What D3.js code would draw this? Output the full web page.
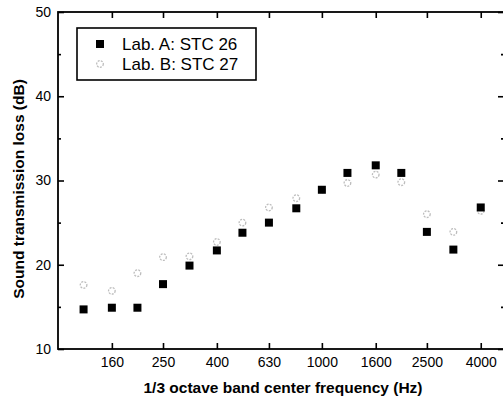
<!DOCTYPE html>
<html>
<head>
<meta charset="utf-8">
<script src="https://cdn.jsdelivr.net/npm/d3@7"></script>
<style>
  html, body { margin: 0; padding: 0; background: #fff; }
  svg { display: block; font-family: "Liberation Sans", Arial, sans-serif; }
  .axis path { display: none; }
  .axis line { stroke: #000; stroke-width: 1.6; }
  .axis text { font-size: 14px; fill: #000; }
  .label { font-size: 15.5px; font-weight: bold; fill: #000; }
</style>
</head>
<body>
<div id="graph"></div>
<script>
// ------DATA------
const freqs = [125, 160, 200, 250, 315, 400, 500, 630, 800, 1000, 1250, 1600, 2000, 2500, 3150, 4000]
const labA = [14.7, 14.9, 14.9, 17.7, 19.9, 21.7, 23.8, 25.0, 26.7, 28.9, 30.9, 31.8, 30.9, 23.9, 21.8, 26.8]
const labB = [17.6, 16.9, 19.0, 20.9, 21.0, 22.7, 25.0, 26.8, 27.9, 28.9, 29.7, 30.7, 29.8, 26.0, 23.9, 26.4]
const xTicks = [160, 250, 400, 630, 1000, 1600, 2500, 4000]
const yTicks = [10, 20, 30, 40, 50]
const yMinor = [15, 25, 35, 45]
const seriesNames = ["Lab. A: STC 26", "Lab. B: STC 27"]

// ------SETUP------
const width = 503, height = 399
const margin = { top: 12, left: 58, bottom: 349, right: 504 }

const svg = d3.select('#graph')
  .append("svg")
    .attr("width", width)
    .attr("height", height)

// 1/3 octave bands sit evenly on a log axis
const xScale = d3.scaleLog()
  .domain([100, 4900])
  .range([margin.left, margin.right])

const yScale = d3.scaleLinear()
  .domain([10, 50])
  .range([margin.bottom, margin.top])

// ------AXES (ticks point inward)------
svg.append('g').attr("class", "axis")
  .attr("transform", `translate(0, ${margin.bottom})`)
  .call(d3.axisBottom(xScale).tickValues(xTicks).tickFormat(d3.format("d")).tickSize(-6).tickPadding(8))

svg.append('g').attr("class", "axis")
  .attr("transform", `translate(0, ${margin.top})`)
  .call(d3.axisTop(xScale).tickValues(xTicks).tickFormat("").tickSize(-6))

svg.append('g').attr("class", "axis")
  .attr("transform", `translate(${margin.left}, 0)`)
  .call(d3.axisLeft(yScale).tickValues(yTicks).tickFormat(d3.format("d")).tickSize(-6).tickPadding(7))

svg.append('g').attr("class", "axis")
  .attr("transform", `translate(${margin.left}, 0)`)
  .call(d3.axisLeft(yScale).tickValues(yMinor).tickFormat("").tickSize(-3))

svg.append('g').attr("class", "axis")
  .attr("transform", `translate(${margin.right}, 0)`)
  .call(d3.axisRight(yScale).tickValues(yTicks).tickFormat("").tickSize(-6))

svg.append('g').attr("class", "axis")
  .attr("transform", `translate(${margin.right}, 0)`)
  .call(d3.axisRight(yScale).tickValues(yMinor).tickFormat("").tickSize(-3))

// frame
svg.append("rect")
  .attr("x", margin.left)
  .attr("y", margin.top)
  .attr("width", margin.right - margin.left)
  .attr("height", margin.bottom - margin.top)
  .attr("fill", "none")
  .attr("stroke", "#000")
  .attr("stroke-width", 1.8)

// axis titles
svg.append("text")
  .attr("class", "label")
  .attr("transform", `translate(18, 189) rotate(-90)`)
  .attr("dy", "0.36em")
  .style("text-anchor", "middle")
  .text("Sound transmission loss (dB)")

svg.append("text")
  .attr("class", "label")
  .attr("x", 283)
  .attr("y", 393)
  .style("text-anchor", "middle")
  .text("1/3 octave band center frequency (Hz)")

// ------MARKS------
const sq = 8
svg.append("g").selectAll("circle")
  .data(freqs)
  .join("circle")
    .attr("cx", d => xScale(d))
    .attr("cy", (d, i) => yScale(labB[i]))
    .attr("r", 3.3)
    .attr("fill", "none")
    .attr("stroke", "#bdbdbd")
    .attr("stroke-width", 1.3)
    .attr("stroke-dasharray", "2,1.2")

svg.append("g").selectAll("rect")
  .data(freqs)
  .join("rect")
    .attr("x", d => xScale(d) - sq / 2)
    .attr("y", (d, i) => yScale(labA[i]) - sq / 2)
    .attr("width", sq)
    .attr("height", sq)
    .attr("fill", "#000")

// ------LEGEND------
const legend = svg.append("g")
legend.append("rect")
  .attr("x", 77).attr("y", 28)
  .attr("width", 179).attr("height", 52)
  .attr("fill", "#fff")
  .attr("stroke", "#000")
  .attr("stroke-width", 1.6)

legend.append("rect")
  .attr("x", 100 - sq / 2).attr("y", 44 - sq / 2)
  .attr("width", sq).attr("height", sq)
  .attr("fill", "#000")

legend.append("circle")
  .attr("cx", 100).attr("cy", 64)
  .attr("r", 3.3)
  .attr("fill", "none")
  .attr("stroke", "#bdbdbd")
  .attr("stroke-width", 1.3)
  .attr("stroke-dasharray", "2,1.2")

legend.selectAll("text")
  .data(seriesNames)
  .join("text")
    .attr("x", 122)
    .attr("y", (d, i) => 44 + i * 20)
    .attr("dy", "0.36em")
    .style("font-size", "17px")
    .text(d => d)
</script>
</body>
</html>
